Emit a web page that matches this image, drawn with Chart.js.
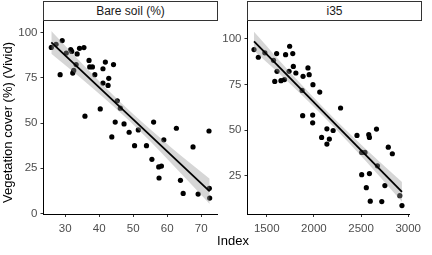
<!DOCTYPE html>
<html>
<head>
<meta charset="utf-8">
<script src="https://cdn.jsdelivr.net/npm/chart.js@4.4.0/dist/chart.umd.min.js"></script>
<style>
  body { margin: 0; background: #fff; }
  #wrap { position: relative; width: 432px; height: 255px; overflow: hidden; font-family: "Liberation Sans", Arial, sans-serif; }
  .box { position: absolute; top: 0; width: 222px; height: 255px; }
  .strip { position: absolute; top: 1px; height: 20px; box-sizing: border-box; border: 1px solid #333; background: #fff;
           font-size: 12px; color: #1a1a1a; text-align: center; line-height: 18px; }
  #ycol { position: absolute; left: 0px; top: 30px; width: 15px; height: 184px; display: flex; align-items: center; justify-content: center; }
  #ytitle { writing-mode: vertical-rl; transform: rotate(180deg); white-space: nowrap; font-size: 13px; line-height: 15px; color: #000; font-weight: normal; }
  #xtitle { position: absolute; left: 213px; width: 40px; text-align: center; top: 234px; font-size: 13px; line-height: 14px; color: #000; }
</style>
</head>
<body>
<div id="wrap">
  <div class="box" style="left:0px"><canvas id="bare" width="222" height="255"></canvas></div>
  <div class="box" style="left:204px"><canvas id="i35" width="222" height="255"></canvas></div>
  <div class="strip" style="left:43px; width:175px">Bare soil (%)</div>
  <div class="strip" style="left:247px; width:175px">i35</div>
  <div id="ycol"><div id="ytitle">Vegetation cover (%) (Vivid)</div></div>
  <div id="xtitle">Index</div>
</div>
<script>
// Bare soil (%) panel
let bareX = [25.9, 27.3, 29.1, 30.3, 31.6, 31.9, 33.5, 34.2, 35.5, 33.2, 37.0, 37.2, 38.0, 38.7, 41.1, 41.8, 44.2,
  41.1, 42.8, 42.6, 28.5, 32.2, 32.5, 40.3, 35.8, 45.3, 46.2, 44.7, 43.7, 47.3, 48.8, 51.5, 50.4, 53.9, 56.0,
  59.0, 62.7, 55.5, 57.5, 58.3, 57.6, 63.9, 64.7, 67.6, 69.1, 72.3, 72.4, 72.5];
let bareY = [91.8, 93.5, 95.6, 88.7, 90.6, 89.6, 88.2, 91.3, 91.7, 82.3, 84.6, 81.0, 81.0, 76.7, 80.0, 83.7, 82.3,
  72.1, 74.7, 70.8, 76.7, 77.6, 79.1, 57.8, 53.8, 62.3, 58.2, 50.5, 42.3, 49.5, 44.9, 46.2, 37.5, 37.5, 50.5,
  40.7, 47.1, 29.9, 25.7, 26.2, 19.6, 18.3, 11.1, 36.8, 10.7, 45.6, 13.9, 8.5];
let bareFitX = [25.9, 72.5];
let bareFitY = [94.6, 12.2];
let bareBandX = [25.9, 32, 38, 44, 49, 55, 61, 67, 72.5];
let bareBandLo = [88.3, 78.9, 69.4, 59.6, 51.0, 39.9, 28.2, 16.3, 5.2];
let bareBandHi = [100.9, 88.7, 77.0, 65.6, 56.6, 46.5, 36.8, 27.5, 19.2];
let bareTicksX = [30, 40, 50, 60, 70];
let bareTicksY = [0, 25, 50, 75, 100];

// i35 panel
let i35X = [1365, 1411, 1480, 1572, 1605, 1609, 1585, 1651, 1688, 1700, 1743, 1776, 1737, 1782, 1809, 1885, 1937,
  1950, 1990, 1875, 2062, 1881, 1987, 1987, 2138, 2164, 2082, 2138, 2204, 2283, 2457, 2582, 2589, 2664,
  2507, 2542, 2789, 2832, 2674, 2507, 2589, 2556, 2753, 2598, 2720, 2911, 2934];
let i35Y = [94.0, 89.8, 92.2, 88.1, 91.8, 82.1, 76.6, 77.0, 77.6, 91.2, 95.8, 91.8, 82.1, 84.8, 81.2, 79.4, 84.0,
  80.3, 74.8, 71.7, 70.8, 57.9, 58.2, 54.0, 50.7, 45.1, 46.0, 42.4, 49.8, 62.1, 47.1, 47.5, 46.0, 50.6,
  37.8, 37.8, 40.7, 37.1, 30.5, 25.7, 26.3, 18.6, 19.7, 11.2, 11.0, 14.2, 8.8];
let i35FitX = [1365, 2934];
let i35FitY = [98.5, 16.3];
let i35BandX = [1365, 1600, 1850, 2100, 2400, 2700, 2934];
let i35BandLo = [93.3, 82.4, 70.3, 57.6, 41.5, 24.6, 10.9];
let i35BandHi = [103.7, 90.0, 75.9, 62.4, 47.1, 32.6, 21.7];
let i35TicksX = [1500, 2000, 2500, 3000];
let i35TicksY = [25, 50, 75, 100];

function pairs(xs, ys) {
  let out = [];
  for (let i = 0; i < xs.length; i++) {
    out.push({ x: xs[i], y: ys[i] });
  }
  return out;
}

function axis(min, max, tickVals, fitFn, pad) {
  return {
    type: "linear",
    min: min,
    max: max,
    afterBuildTicks: (s) => { s.ticks = tickVals.map((v) => ({ value: v })); },
    afterFit: fitFn,
    grid: { drawOnChartArea: false, drawTicks: true, tickLength: 3, color: "#333" },
    border: { display: true, color: "#000", width: 1 },
    ticks: {
      color: "#4d4d4d",
      font: { family: "Liberation Sans", size: 11.5 },
      padding: pad,
      maxRotation: 0,
      autoSkip: false,
      callback: (v) => String(v),
    },
  };
}

function panel(id, xs, ys, fitX, fitY, bandX, bandLo, bandHi, xMin, xMax, yMin, yMax, tx, ty) {
  new Chart(document.getElementById(id), {
    type: "scatter",
    data: {
      datasets: [
        {
          data: pairs(xs, ys),
          pointRadius: 2.6,
          pointBackgroundColor: "#000",
          pointBorderWidth: 0,
          order: 3,
        },
        {
          data: pairs(bandX, bandLo),
          showLine: true,
          borderWidth: 0,
          pointRadius: 0,
          cubicInterpolationMode: "monotone",
          fill: false,
          order: 2,
        },
        {
          data: pairs(bandX, bandHi),
          showLine: true,
          borderWidth: 0,
          pointRadius: 0,
          cubicInterpolationMode: "monotone",
          fill: "-1",
          backgroundColor: "rgba(153,153,153,0.4)",
          order: 2,
        },
        {
          data: pairs(fitX, fitY),
          showLine: true,
          borderColor: "#000",
          borderWidth: 1.8,
          pointRadius: 0,
          order: 1,
        },
      ],
    },
    options: {
      responsive: false,
      animation: false,
      devicePixelRatio: 1,
      events: [],
      layout: { padding: { top: 21, right: 4.5, left: 0, bottom: 0 } },
      plugins: { legend: { display: false }, tooltip: { enabled: false } },
      scales: {
        x: axis(xMin, xMax, tx, (s) => { s.height = 41; }, 5),
        y: axis(yMin, yMax, ty, (s) => { s.width = 43.5; }, 3),
      },
    },
  });
}

panel("bare", bareX, bareY, bareFitX, bareFitY, bareBandX, bareBandLo, bareBandHi,
  23.6, 74.8, -0.3, 106.4, bareTicksX, bareTicksY);
panel("i35", i35X, i35Y, i35FitX, i35FitY, i35BandX, i35BandLo, i35BandHi,
  1296, 3010, 4.2, 109.6, i35TicksX, i35TicksY);
</script>
</body>
</html>
